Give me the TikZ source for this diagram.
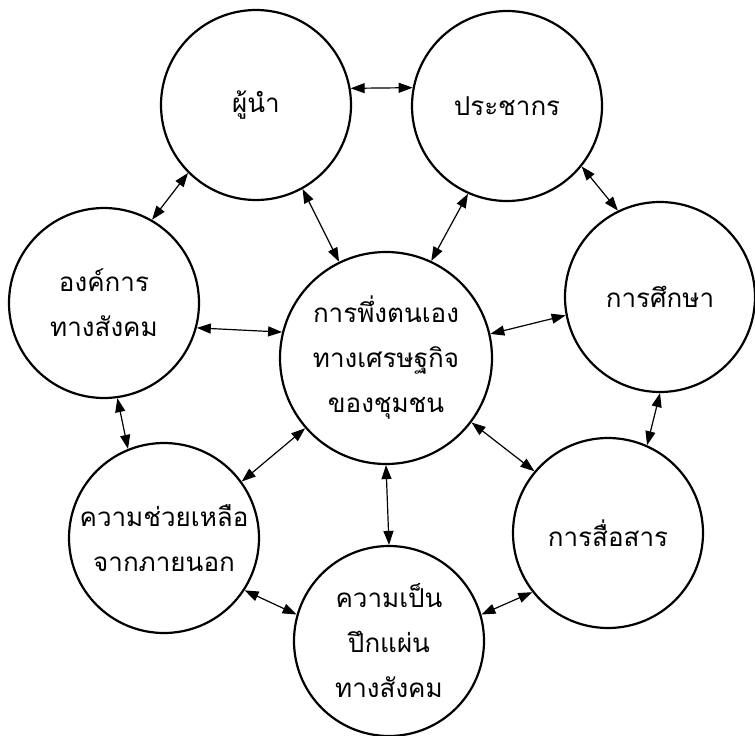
\documentclass[tikz,border=0pt]{standalone}
\usepackage{fontspec}
\newfontfamily\thaifont[Script=Thai]{Loma}
\usetikzlibrary{arrows.meta}
\tikzset{
  bubble/.style={circle, draw, line width=2.2pt, minimum size=#1, inner sep=0pt, align=center, font=\thaifont\fontsize{26}{45}\selectfont},
  bubble/.default=190pt,
  link/.style={{Triangle[length=14pt, width=10pt]}-{Triangle[length=14pt, width=10pt]}, line width=1.2pt},
}

\begin{document}
\begin{tikzpicture}[x=1pt, y=-1pt]
  \useasboundingbox (0,0) rectangle (755,736);
  % centre
  \node[bubble=212pt] (self) at (386,358) {การพึ่งตนเอง\\ทางเศรษฐกิจ\\ของชุมชน};
  % ring
  \node[bubble] (lead)  at (256,105) {ผู้นำ};
  \node[bubble] (pop)   at (507,106) {ประชากร};
  \node[bubble] (edu)   at (660,297) {การศึกษา};
  \node[bubble] (comm)  at (608,533) {การสื่อสาร};
  \node[bubble] (unity) at (389,641) {ความเป็น\\ปึกแผ่น\\ทางสังคม};
  \node[bubble] (aid)   at (164,538) {ความช่วยเหลือ\\จากภายนอก};
  \node[bubble] (org)   at (104,303) {องค์การ\\ทางสังคม};
  % two-way links
  \foreach \a/\b in {lead.10/pop.169, lead.225/org.60, lead.299/self.116, org.345/self.166,
                     pop.246/self.65, pop.321/edu.116, self.13/edu.191, org.278/aid.112,
                     aid.36/self.221, aid.327/unity.164, self.270/unity.90, self.323/comm.140,
                     edu.270/comm.66, unity.16/comm.218}
    \draw[link] (\a) -- (\b);
\end{tikzpicture}
\end{document}
